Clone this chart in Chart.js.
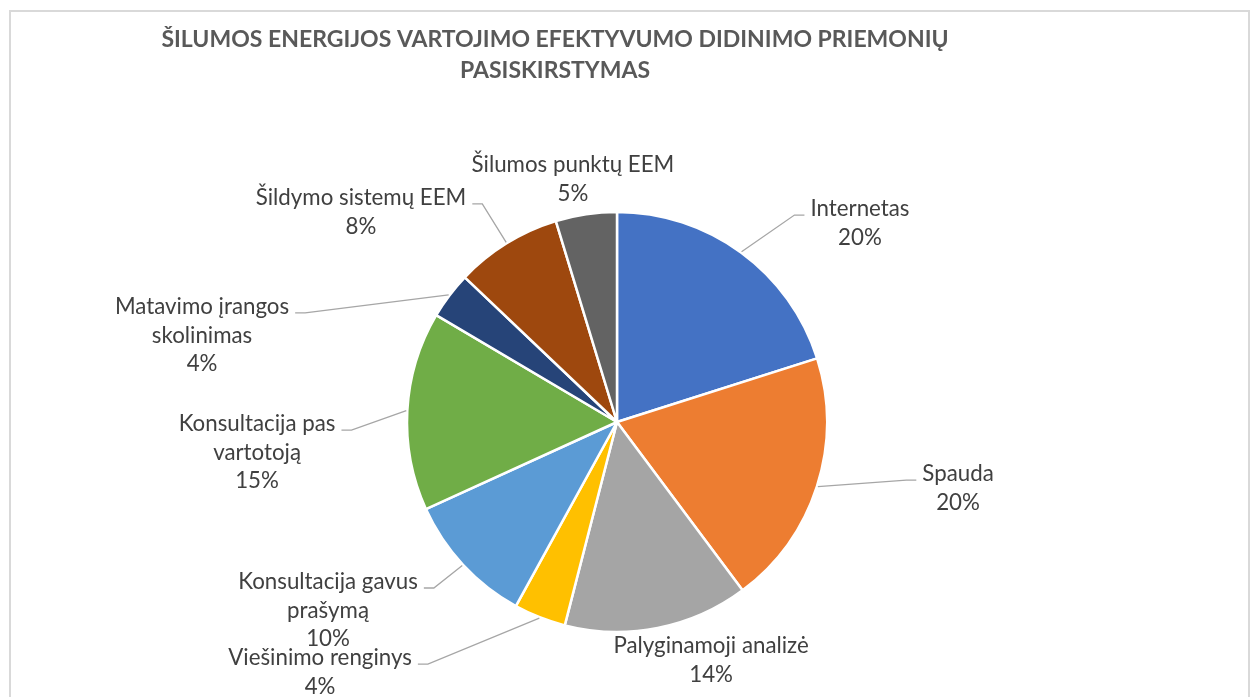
<!DOCTYPE html>
<html lang="lt">
<head>
<meta charset="utf-8">
<title>Šilumos energijos vartojimo efektyvumo didinimo priemonių pasiskirstymas</title>
<script src="https://cdn.jsdelivr.net/npm/chart.js@4.4.1/dist/chart.umd.min.js"></script>
<style>
    html, body { margin: 0; padding: 0; background: #fff; overflow: hidden; }
    #remelis { position: absolute; left: 9px; top: 10px; width: 1241px; height: 720px; border: 2px solid #d9d9d9; box-sizing: border-box; }
    #grafikas { position: absolute; left: 0; top: 0; }
</style>
</head>
<body>
<div id="remelis"></div>
<canvas id="grafikas" width="1259" height="697"></canvas>
<script>
// Duomenys
const pavadinimas = ['ŠILUMOS ENERGIJOS VARTOJIMO EFEKTYVUMO DIDINIMO PRIEMONIŲ', 'PASISKIRSTYMAS'];
const priemones = [
    ['Internetas'],
    ['Spauda'],
    ['Palyginamoji analizė'],
    ['Viešinimo renginys'],
    ['Konsultacija gavus', 'prašymą'],
    ['Konsultacija pas', 'vartotoją'],
    ['Matavimo įrangos', 'skolinimas'],
    ['Šildymo sistemų EEM'],
    ['Šilumos punktų EEM']
];
const dalys = [20.1, 19.7, 14.2, 4.0, 10.2, 15.3, 3.6, 8.2, 4.7];
const spalvos = ['#4472C4', '#ED7D31', '#A5A5A5', '#FFC000', '#5B9BD5', '#70AD47', '#264478', '#9E480E', '#636363'];

// Etikečių vieta (spindulio vienetais nuo centro) ir ar reikia linijos
const etikeciuVieta = [
    [1.157, -1.014, true],
    [1.624, 0.248, true],
    [0.448, 1.067, false],
    [-1.414, 1.124, true],
    [-1.376, 0.762, true],
    [-1.714, 0.010, true],
    [-1.976, -0.548, true],
    [-1.219, -1.067, true],
    [-0.210, -1.224, false]
];

const sriftas = '22.3px Lato';
const eilutesAukstis = 28.5;

const etiketes = {
    id: 'etiketes',
    afterDatasetsDraw(chart) {
        const ctx = chart.ctx;
        const lankai = chart.getDatasetMeta(0).data;
        const suma = dalys.reduce((a, b) => a + b, 0);

        ctx.save();
        ctx.font = sriftas;
        ctx.textAlign = 'center';
        ctx.textBaseline = 'middle';

        for (let i = 0; i < lankai.length; i++) {
            const lankas = lankai[i].getProps(['x', 'y', 'startAngle', 'endAngle', 'outerRadius'], true);
            const r = lankas.outerRadius;
            const lx = lankas.x + etikeciuVieta[i][0] * r;
            const ly = lankas.y + etikeciuVieta[i][1] * r;
            const eilutes = priemones[i].concat([Math.round(dalys[i] / suma * 100) + '%']);

            if (etikeciuVieta[i][2]) {
                const vidurys = (lankas.startAngle + lankas.endAngle) / 2;
                const px = lankas.x + Math.cos(vidurys) * (r + 1);
                const py = lankas.y + Math.sin(vidurys) * (r + 1);
                const plotis = ctx.measureText(eilutes[0]).width;
                const puse = lx > lankas.x ? -1 : 1;
                const galX = lx + puse * (plotis / 2 + 6);
                const galY = ly + 6;

                ctx.strokeStyle = '#A6A6A6';
                ctx.lineWidth = 1.3;
                ctx.beginPath();
                ctx.moveTo(galX, galY);
                ctx.lineTo(galX + puse * 10, galY);
                ctx.lineTo(px, py);
                ctx.stroke();
            }

            ctx.fillStyle = '#404040';
            for (let e = 0; e < eilutes.length; e++) {
                ctx.fillText(eilutes[e], lx, ly + e * eilutesAukstis);
            }
        }
        ctx.restore();
    },
    afterDraw(chart) {
        const ctx = chart.ctx;
        ctx.save();
        ctx.font = 'bold 23px Lato';
        ctx.fillStyle = '#595959';
        ctx.textAlign = 'center';
        ctx.textBaseline = 'middle';
        for (let i = 0; i < pavadinimas.length; i++) {
            ctx.fillText(pavadinimas[i], 555, 40 + i * 31);
        }
        ctx.restore();
    }
};

const konfig = {
    type: 'pie',
    data: {
        labels: priemones,
        datasets: [{
            data: dalys,
            backgroundColor: spalvos,
            borderColor: '#ffffff',
            borderWidth: 2.5,
            radius: 210
        }]
    },
    options: {
        responsive: false,
        animation: false,
        layout: {
            padding: { left: 100, right: 125, top: 200, bottom: 53 }
        },
        plugins: {
            legend: { display: false },
            tooltip: { enabled: false }
        }
    },
    plugins: [etiketes]
};

new Chart(document.getElementById('grafikas').getContext('2d'), konfig);
</script>
</body>
</html>
